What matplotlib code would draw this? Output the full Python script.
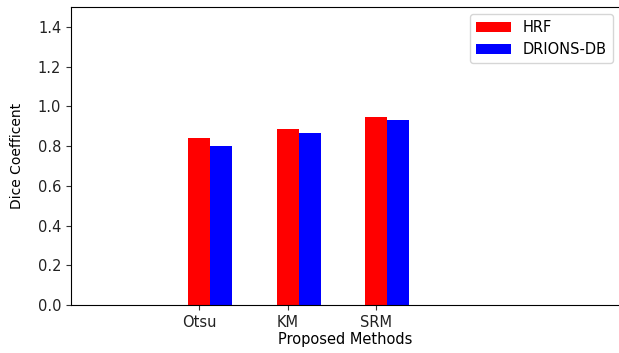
import matplotlib.pyplot as plt
import numpy as np

methods = ['Otsu', 'KM', 'SRM']
hrf = [0.84, 0.885, 0.945]
drions = [0.80, 0.865, 0.93]

x = np.arange(1, len(methods) + 1)
w = 0.25

fig = plt.figure(figsize=(6.19, 3.53), dpi=100)
ax = fig.add_axes([0.1147, 0.136, 0.8870, 0.844])
ax.bar(x, hrf, width=w, color='r', label='HRF')
ax.bar(x + w, drions, width=w, color='b', label='DRIONS-DB')
ax.set_xticks(x)
ax.set_xticklabels(methods)
ax.tick_params(labelsize=10.5, colors='#333333', labelcolor='#222222')
ax.set_xlim(x[0] - 1.446, x[0] - 1.446 + 6.20)
ax.set_ylim(0, 1.5)
ax.set_yticks(np.arange(0, 1.41, 0.2))
ax.set_xlabel('Proposed Methods', labelpad=2, fontsize=10.5)
ax.set_ylabel('Dice Coefficent', labelpad=10, fontsize=10)
ax.legend(loc='upper right', fontsize=10.5, handlelength=2.4)
fig.savefig('out.png', dpi=100)
